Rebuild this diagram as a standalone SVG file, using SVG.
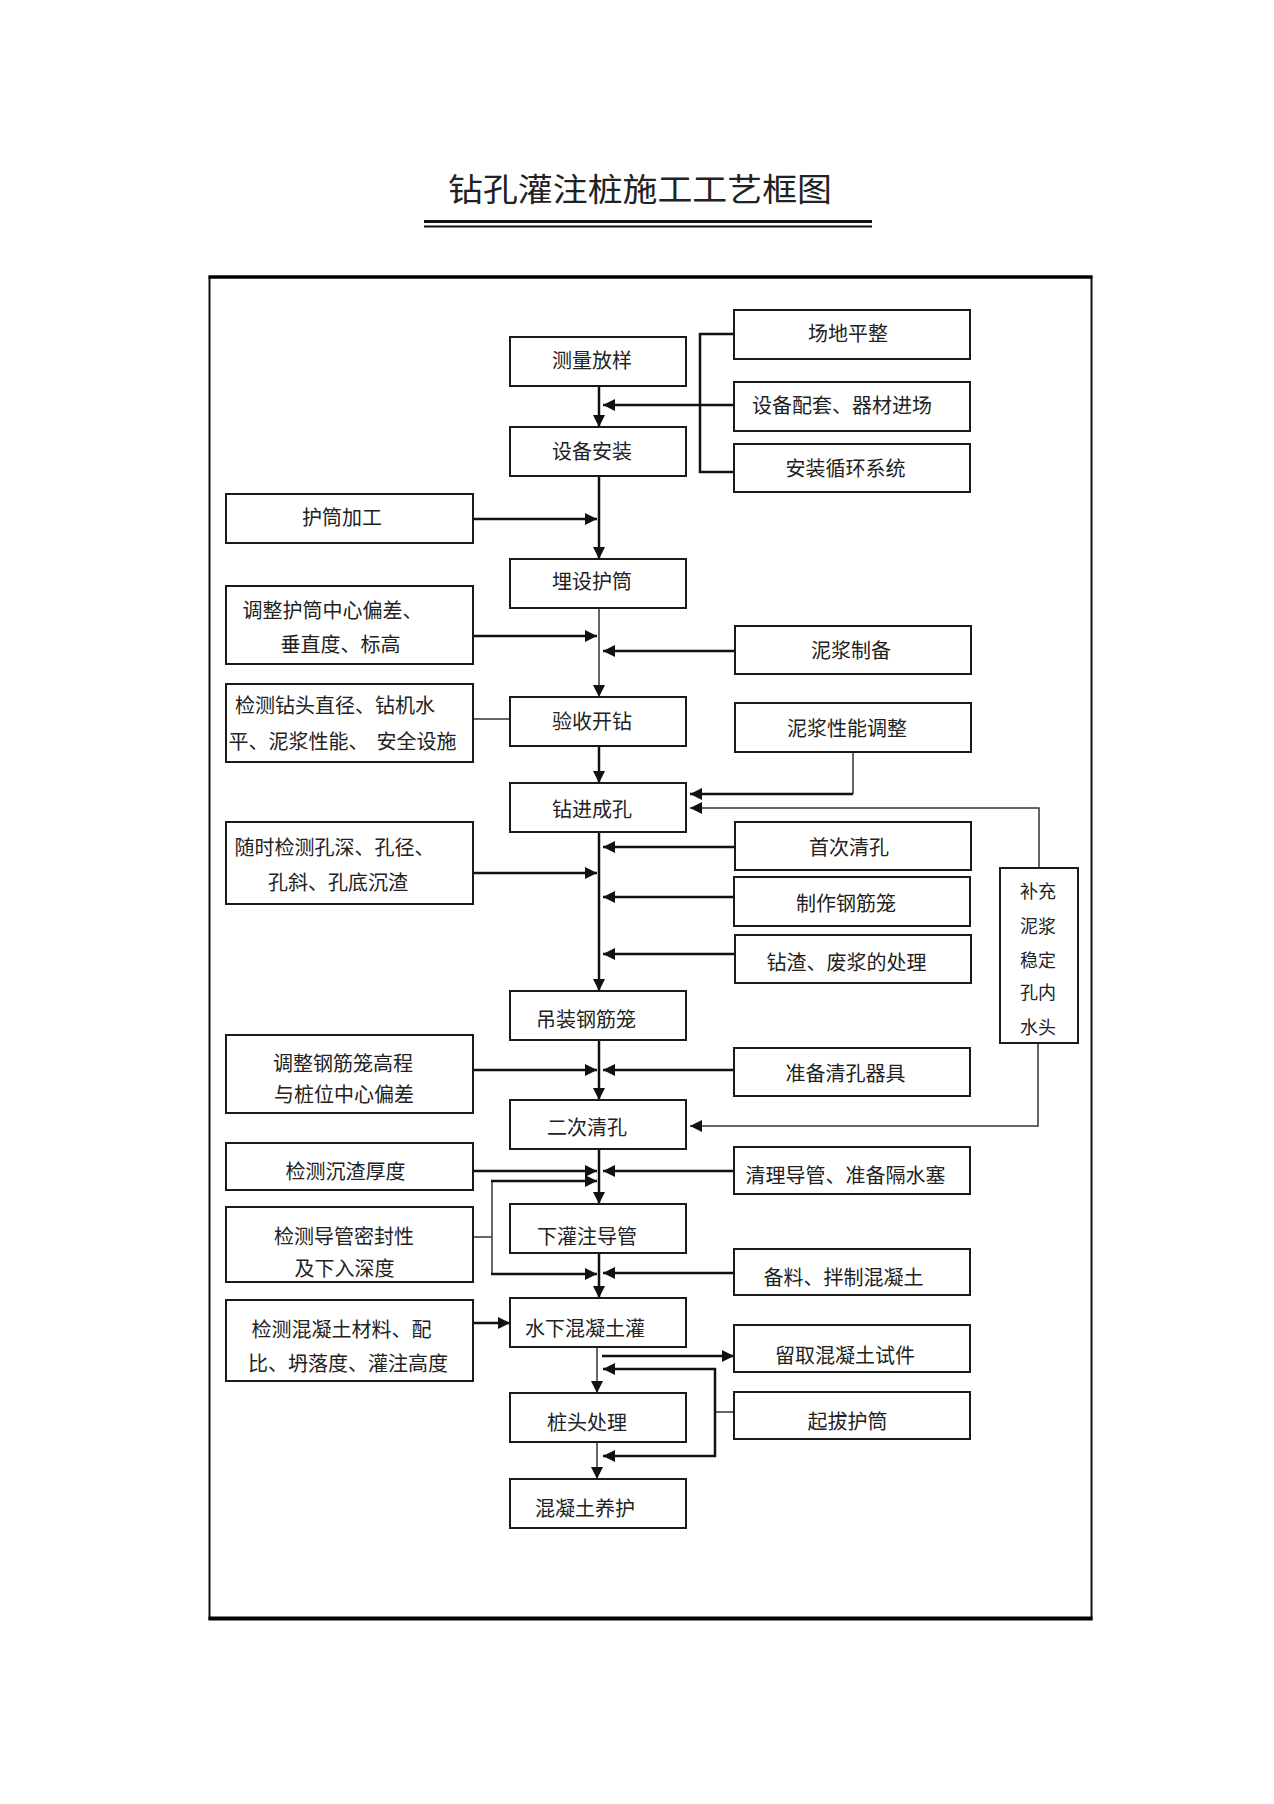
<svg xmlns="http://www.w3.org/2000/svg" width="1274" height="1804" viewBox="0 0 1274 1804">
<defs>
<marker id="ah" markerUnits="userSpaceOnUse" markerWidth="12" markerHeight="12" refX="12" refY="6" orient="auto">
<path d="M0,0 L12,6 L0,12 z" fill="#111"/>
</marker>
<style>
.box{fill:#fff;stroke:#1a1a1a;stroke-width:2}
.t{font-family:"Noto Sans CJK SC","Noto Sans CJK JP",sans-serif;font-size:20px;fill:#222;text-anchor:middle}
.ln{fill:none;stroke:#111;stroke-width:2.5}
.thin{fill:none;stroke:#333;stroke-width:1.5}
.arr{marker-end:url(#ah)}
</style>
</defs>
<rect x="0" y="0" width="1274" height="1804" fill="#fff"/>
<g id="title">
<text x="640" y="201" font-family="'Noto Sans CJK SC','Noto Sans CJK JP',sans-serif" font-size="32" fill="#222" text-anchor="middle" textLength="384" lengthAdjust="spacingAndGlyphs">钻孔灌注桩施工工艺框图</text>
<line x1="424" y1="221.5" x2="872" y2="221.5" stroke="#111" stroke-width="3"/>
<line x1="424" y1="226.5" x2="872" y2="226.5" stroke="#111" stroke-width="2"/>
</g>
<g id="frame">
<rect x="209.5" y="277" width="882" height="1342" fill="none" stroke="#111" stroke-width="2"/>
<line x1="208.5" y1="277" x2="1092.5" y2="277" stroke="#000" stroke-width="3.5"/>
<line x1="208.5" y1="1618.5" x2="1092.5" y2="1618.5" stroke="#000" stroke-width="4"/>
</g>
<g id="connectors">
<line class="ln arr" x1="599" y1="386" x2="599" y2="427"/>
<line class="ln arr" x1="599" y1="476" x2="599" y2="559"/>
<line class="thin arr" x1="599" y1="608" x2="599" y2="697"/>
<line class="ln arr" x1="599" y1="746" x2="599" y2="783"/>
<line class="ln arr" x1="599" y1="832" x2="599" y2="991"/>
<line class="ln arr" x1="599" y1="1040" x2="599" y2="1100"/>
<line class="ln arr" x1="599" y1="1149" x2="599" y2="1204"/>
<line class="ln arr" x1="599" y1="1253" x2="599" y2="1298"/>
<line class="thin arr" x1="597" y1="1347" x2="597" y2="1393"/>
<line class="thin arr" x1="597" y1="1442" x2="597" y2="1479"/>
<line class="ln arr" x1="734" y1="405" x2="603" y2="405"/>
<polyline class="ln" points="734,334 700,334 700,472 734,472"/>
<line class="ln arr" x1="473" y1="519" x2="597" y2="519"/>
<line class="ln arr" x1="473" y1="636" x2="597" y2="636"/>
<line class="ln arr" x1="734" y1="651" x2="603" y2="651"/>
<line class="thin" x1="473" y1="719" x2="510" y2="719"/>
<polyline class="thin" points="853,752 853,794"/>
<line class="ln arr" x1="853" y1="794" x2="690" y2="794"/>
<polyline class="thin arr" points="1039,868 1039,808 690,808"/>
<line class="ln arr" x1="734" y1="847" x2="603" y2="847"/>
<line class="ln arr" x1="473" y1="873" x2="597" y2="873"/>
<line class="ln arr" x1="734" y1="897" x2="603" y2="897"/>
<line class="ln arr" x1="734" y1="954" x2="603" y2="954"/>
<line class="ln arr" x1="473" y1="1070" x2="597" y2="1070"/>
<line class="ln arr" x1="734" y1="1070" x2="603" y2="1070"/>
<polyline class="thin arr" points="1038,1043 1038,1126 690,1126"/>
<line class="ln arr" x1="473" y1="1171" x2="597" y2="1171"/>
<line class="ln arr" x1="734" y1="1171" x2="603" y2="1171"/>
<line class="thin" x1="473" y1="1237" x2="492" y2="1237"/>
<line class="thin" x1="492" y1="1181" x2="492" y2="1274"/>
<line class="ln arr" x1="491" y1="1181" x2="597" y2="1181"/>
<line class="ln arr" x1="491" y1="1274" x2="597" y2="1274"/>
<line class="ln arr" x1="734" y1="1273" x2="603" y2="1273"/>
<line class="ln arr" x1="473" y1="1323" x2="510" y2="1323"/>
<line class="ln arr" x1="602" y1="1356" x2="734" y2="1356"/>
<line class="thin" x1="734" y1="1412" x2="715" y2="1412"/>
<line class="ln" x1="715" y1="1368" x2="715" y2="1457"/>
<line class="ln arr" x1="716" y1="1369" x2="603" y2="1369"/>
<line class="ln arr" x1="716" y1="1456" x2="603" y2="1456"/>
</g>
<g id="n-celiang"><rect class="box" x="510" y="337" width="176" height="49"/><text class="t" x="592" y="367.5">测量放样</text></g>
<g id="n-shebei-anzhuang"><rect class="box" x="510" y="427" width="176" height="49"/><text class="t" x="592" y="458.5">设备安装</text></g>
<g id="n-maishe"><rect class="box" x="510" y="559" width="176" height="49"/><text class="t" x="592" y="589">埋设护筒</text></g>
<g id="n-yanshou"><rect class="box" x="510" y="697" width="176" height="49"/><text class="t" x="592" y="729">验收开钻</text></g>
<g id="n-zuanjin"><rect class="box" x="510" y="783" width="176" height="49"/><text class="t" x="592" y="817">钻进成孔</text></g>
<g id="n-diaozhuang"><rect class="box" x="510" y="991" width="176" height="49"/><text class="t" x="586" y="1027">吊装钢筋笼</text></g>
<g id="n-erci"><rect class="box" x="510" y="1100" width="176" height="49"/><text class="t" x="587" y="1134.5">二次清孔</text></g>
<g id="n-xiaguanzhu"><rect class="box" x="510" y="1204" width="176" height="49"/><text class="t" x="587" y="1243.5">下灌注导管</text></g>
<g id="n-shuixia"><rect class="box" x="510" y="1298" width="176" height="49"/><text class="t" x="585" y="1336">水下混凝土灌</text></g>
<g id="n-zhuangtou"><rect class="box" x="510" y="1393" width="176" height="49"/><text class="t" x="587" y="1430">桩头处理</text></g>
<g id="n-yanghu"><rect class="box" x="510" y="1479" width="176" height="49"/><text class="t" x="585" y="1516">混凝土养护</text></g>
<g id="n-changdi"><rect class="box" x="734" y="310" width="236" height="49"/><text class="t" x="848" y="340.5">场地平整</text></g>
<g id="n-peitao"><rect class="box" x="734" y="382" width="236" height="49"/><text class="t" x="842" y="412.5">设备配套、器材进场</text></g>
<g id="n-xunhuan"><rect class="box" x="734" y="444" width="236" height="48"/><text class="t" x="845.5" y="475.5">安装循环系统</text></g>
<g id="n-nijiang"><rect class="box" x="735" y="626" width="236" height="48"/><text class="t" x="851" y="658">泥浆制备</text></g>
<g id="n-xingneng"><rect class="box" x="735" y="703" width="236" height="49"/><text class="t" x="847" y="735.5">泥浆性能调整</text></g>
<g id="n-shouci"><rect class="box" x="735" y="822" width="236" height="48"/><text class="t" x="849" y="854.5">首次清孔</text></g>
<g id="n-zhizuo"><rect class="box" x="734" y="877" width="236" height="49"/><text class="t" x="846" y="910.5">制作钢筋笼</text></g>
<g id="n-zhazha"><rect class="box" x="735" y="935" width="236" height="48"/><text class="t" x="846.5" y="969.5">钻渣、废浆的处理</text></g>
<g id="n-zhunbei"><rect class="box" x="734" y="1048" width="236" height="48"/><text class="t" x="845.5" y="1080.5">准备清孔器具</text></g>
<g id="n-qingli"><rect class="box" x="734" y="1147" width="236" height="47"/><text class="t" x="845.5" y="1182.5">清理导管、准备隔水塞</text></g>
<g id="n-beiliao"><rect class="box" x="734" y="1249" width="236" height="46"/><text class="t" x="843.5" y="1284.5">备料、拌制混凝土</text></g>
<g id="n-liuqu"><rect class="box" x="734" y="1325" width="236" height="47"/><text class="t" x="845" y="1362.5">留取混凝土试件</text></g>
<g id="n-qiba"><rect class="box" x="734" y="1392" width="236" height="47"/><text class="t" x="847.5" y="1429">起拔护筒</text></g>
<g id="n-hutong"><rect class="box" x="226" y="494" width="247" height="49"/><text class="t" x="342" y="524.5">护筒加工</text></g>
<g id="n-tiaozheng-hutong"><rect class="box" x="226" y="586" width="247" height="78"/><text class="t" x="332.5" y="617.5">调整护筒中心偏差、</text><text class="t" x="340.5" y="651.5">垂直度、标高</text></g>
<g id="n-jiance-zuantou"><rect class="box" x="226" y="684" width="247" height="78"/><text class="t" x="335" y="712.5">检测钻头直径、钻机水</text><text class="t" x="228.5" y="748.5" style="text-anchor:start">平、泥浆性能、</text><text class="t" x="456.5" y="748.5" style="text-anchor:end">安全设施</text></g>
<g id="n-suishi"><rect class="box" x="226" y="822" width="247" height="82"/><text class="t" x="334.5" y="854.5">随时检测孔深、孔径、</text><text class="t" x="338" y="889.5">孔斜、孔底沉渣</text></g>
<g id="n-tiaozheng-gangjin"><rect class="box" x="226" y="1035" width="247" height="78"/><text class="t" x="343" y="1070.5">调整钢筋笼高程</text><text class="t" x="344" y="1102">与桩位中心偏差</text></g>
<g id="n-chenzha"><rect class="box" x="226" y="1143" width="247" height="47"/><text class="t" x="345.5" y="1178.5">检测沉渣厚度</text></g>
<g id="n-daoguan"><rect class="box" x="226" y="1207" width="247" height="75"/><text class="t" x="344" y="1243.5">检测导管密封性</text><text class="t" x="344.5" y="1275.5">及下入深度</text></g>
<g id="n-hunningtu"><rect class="box" x="226" y="1300" width="247" height="81"/><text class="t" x="341.5" y="1336.5">检测混凝土材料、配</text><text class="t" x="348" y="1370.5">比、坍落度、灌注高度</text></g>
<g id="n-buchong"><rect class="box" x="1000" y="868" width="78" height="175"/>
<text class="t" x="1038" y="898" style="font-size:18px">补充</text>
<text class="t" x="1038" y="933" style="font-size:18px">泥浆</text>
<text class="t" x="1038" y="966.5" style="font-size:18px">稳定</text>
<text class="t" x="1038" y="999" style="font-size:18px">孔内</text>
<text class="t" x="1038" y="1034" style="font-size:18px">水头</text></g>
</svg>
